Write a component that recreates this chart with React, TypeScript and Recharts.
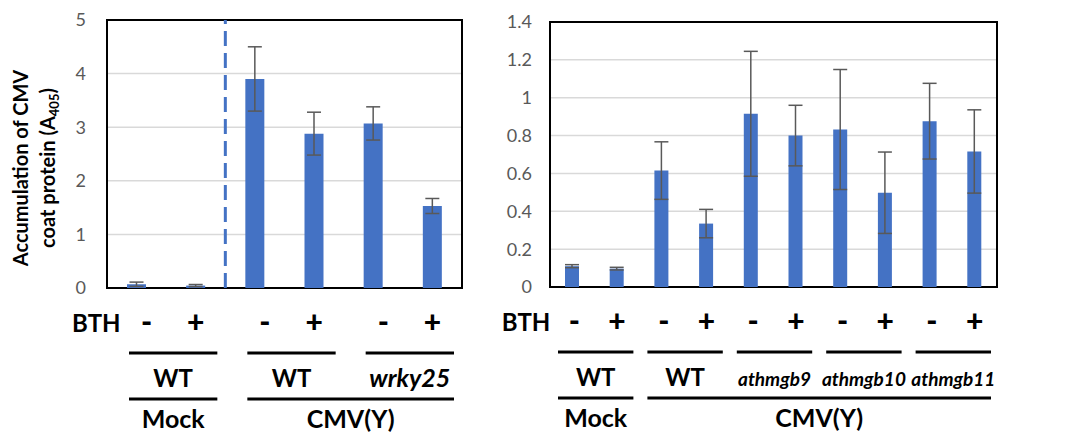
import React from 'react';
import { BarChart, Bar, XAxis, YAxis, CartesianGrid, ErrorBar, ReferenceLine, ReferenceArea, Label } from 'recharts';

// left panel: WT / wrky25
const leftBth = ['-', '+', '-', '+', '-', '+'];
const leftGenotype = ['WT', 'WT', 'WT', 'WT', 'wrky25', 'wrky25'];
const leftTreatment = ['Mock', 'Mock', 'CMV(Y)', 'CMV(Y)', 'CMV(Y)', 'CMV(Y)'];
const leftValues = [0.07, 0.045, 3.9, 2.88, 3.07, 1.53];
const leftErrors = [0.04, 0.02, 0.6, 0.4, 0.31, 0.14];
const leftTicks = [0, 1, 2, 3, 4, 5];

// right panel: WT / athmgb mutants
const rightBth = ['-', '+', '-', '+', '-', '+', '-', '+', '-', '+'];
const rightGenotype = ['WT', 'WT', 'WT', 'WT', 'athmgb9', 'athmgb9', 'athmgb10', 'athmgb10', 'athmgb11', 'athmgb11'];
const rightTreatment = ['Mock', 'Mock', 'CMV(Y)', 'CMV(Y)', 'CMV(Y)', 'CMV(Y)', 'CMV(Y)', 'CMV(Y)', 'CMV(Y)', 'CMV(Y)'];
const rightValues = [0.11, 0.097, 0.615, 0.335, 0.915, 0.8, 0.832, 0.498, 0.876, 0.716];
const rightErrors = [0.008, 0.007, 0.152, 0.075, 0.33, 0.16, 0.317, 0.215, 0.2, 0.22];
const rightTicks = [0, 0.2, 0.4, 0.6, 0.8, 1, 1.2, 1.4];

const FONT = 'Lato, "Open Sans", sans-serif';
const BLUE = '#4472C4';

const buildRows = (bth: string[], geno: string[], treat: string[], vals: number[], errs: number[]) =>
  vals.map((v, i) => ({ id: `c${i}`, bth: bth[i], geno: geno[i], treat: treat[i], value: v, err: errs[i] }));

interface TickOpts {
  bth: string[];
  geno: string[];
  treat: string[];
  inset: number;
  shift: number;
  minusDx: number;
  bthGap: number;
  mutantSize: number;
}

const makeTick = (o: TickOpts) => (props: any) => {
  const { x, y, payload } = props;
  const i: number = payload.index;
  const half: number = payload.offset || 0;
  const band = half * 2;
  const left = x - half;
  const key = (k: number) => o.treat[k] + '|' + o.geno[k];
  const parts: React.ReactNode[] = [];

  parts.push(
    <text key="s" x={x + (o.bth[i] === '-' ? o.minusDx : 0)} y={y + 45} textAnchor="middle"
      fontFamily={FONT} fontWeight={900} fontSize={30} fill="#000">{o.bth[i]}</text>
  );
  if (i === 0) {
    parts.push(
      <text key="b" x={x - o.bthGap} y={y + 44} textAnchor="end"
        fontFamily={FONT} fontWeight={700} fontSize={24} fill="#000">BTH</text>
    );
  }
  if (i === 0 || key(i) !== key(i - 1)) {
    let n = 1;
    while (i + n < o.geno.length && key(i + n) === key(i)) n++;
    const x1 = left + o.inset + o.shift;
    const x2 = left + n * band - o.inset + o.shift;
    const mutant = o.geno[i] !== 'WT';
    parts.push(<line key="gl" x1={x1} x2={x2} y1={y + 65} y2={y + 65} stroke="#000" strokeWidth={3} />);
    parts.push(
      <text key="gt" x={(x1 + x2) / 2} y={y + 99} textAnchor="middle" fontFamily={FONT} fontWeight={700}
        fontStyle={mutant ? 'italic' : 'normal'} fontSize={mutant ? o.mutantSize : 24} fill="#000">{o.geno[i]}</text>
    );
  }
  if (i === 0 || o.treat[i] !== o.treat[i - 1]) {
    let n = 1;
    while (i + n < o.treat.length && o.treat[i + n] === o.treat[i]) n++;
    const x1 = left + o.inset + o.shift;
    const x2 = left + n * band - o.inset + o.shift;
    parts.push(<line key="tl" x1={x1} x2={x2} y1={y + 111} y2={y + 111} stroke="#000" strokeWidth={3} />);
    parts.push(
      <text key="tt" x={(x1 + x2) / 2} y={y + 140} textAnchor="middle" fontFamily={FONT} fontWeight={700}
        fontSize={25} fill="#000">{o.treat[i]}</text>
    );
  }
  return <g>{parts}</g>;
};

const yLabel = (props: any) => {
  const vb = props.viewBox || { x: 0, y: 0, width: 0, height: 0 };
  const cy = vb.y + vb.height / 2 + 14;
  const x1 = vb.x + 28;
  const x2 = vb.x + 55;
  return (
    <g fontFamily={FONT} fontWeight={700} fontSize={20} fill="#000">
      <text x={x1} y={cy} textAnchor="middle" transform={`rotate(-90 ${x1} ${cy})`}>Accumulation of CMV</text>
      <text x={x2} y={cy} textAnchor="middle" transform={`rotate(-90 ${x2} ${cy})`}>
        coat protein (A<tspan fontSize={13} dy={4}>405</tspan><tspan dy={-4}>)</tspan>
      </text>
    </g>
  );
};

const tickStyle = { fill: '#595959', fontSize: 18, fontFamily: FONT };

const LeftPanel: React.FC = () => {
  const data = buildRows(leftBth, leftGenotype, leftTreatment, leftValues, leftErrors);
  const tick = makeTick({ bth: leftBth, geno: leftGenotype, treat: leftTreatment, inset: 15, shift: 7, minusDx: 10, bthGap: 16, mutantSize: 25 });
  return (
    <BarChart width={470} height={434} data={data} margin={{ top: 20, right: 8, bottom: 0, left: 0 }}
      barCategoryGap="34%">
      <CartesianGrid vertical={false} stroke="#d9d9d9" strokeWidth={1.5} />
      <XAxis dataKey="id" height={146} interval={0} axisLine={false} tickLine={false} tickSize={0} tickMargin={0} tick={tick} />
      <YAxis domain={[0, 5]} ticks={leftTicks} width={107} axisLine={false} tickLine={false} tickSize={0} tickMargin={21} tick={tickStyle}>
        <Label content={yLabel} />
      </YAxis>
      <Bar dataKey="value" fill={BLUE} barSize={19} isAnimationActive={false}>
        <ErrorBar dataKey="err" width={7} stroke="#595959" strokeWidth={1.5} />
      </Bar>
      <ReferenceLine x={data[1].id} position="end" stroke={BLUE} strokeWidth={3} strokeDasharray="15 7" />
      <ReferenceArea y1={0} y2={5} fill="none" fillOpacity={0} stroke="#000" strokeWidth={2} strokeOpacity={1} />
    </BarChart>
  );
};

const RightPanel: React.FC = () => {
  const data = buildRows(rightBth, rightGenotype, rightTreatment, rightValues, rightErrors);
  const tick = makeTick({ bth: rightBth, geno: rightGenotype, treat: rightTreatment, inset: 7, shift: 1, minusDx: 2, bthGap: 22, mutantSize: 19 });
  return (
    <BarChart width={608} height={434} data={data} margin={{ top: 22, right: 91, bottom: 0, left: 0 }}>
      <CartesianGrid vertical={false} stroke="#d9d9d9" strokeWidth={1.5} />
      <XAxis dataKey="id" height={147} interval={0} axisLine={false} tickLine={false} tickSize={0} tickMargin={0} tick={tick} />
      <YAxis domain={[0, 1.4]} ticks={rightTicks} width={70} axisLine={false} tickLine={false} tickSize={0} tickMargin={18} tick={tickStyle} />
      <Bar dataKey="value" fill={BLUE} barSize={14} isAnimationActive={false}>
        <ErrorBar dataKey="err" width={7} stroke="#595959" strokeWidth={1.5} />
      </Bar>
      <ReferenceArea y1={0} y2={1.4} fill="none" fillOpacity={0} stroke="#000" strokeWidth={2} strokeOpacity={1} />
    </BarChart>
  );
};

export default function App() {
  return (
    <div style={{ position: 'absolute', left: 0, top: 0, width: 1088, height: 434, background: '#fff' }}>
      <div style={{ position: 'absolute', left: 0, top: 0 }}>
        <LeftPanel />
      </div>
      <div style={{ position: 'absolute', left: 480, top: 0 }}>
        <RightPanel />
      </div>
    </div>
  );
}
